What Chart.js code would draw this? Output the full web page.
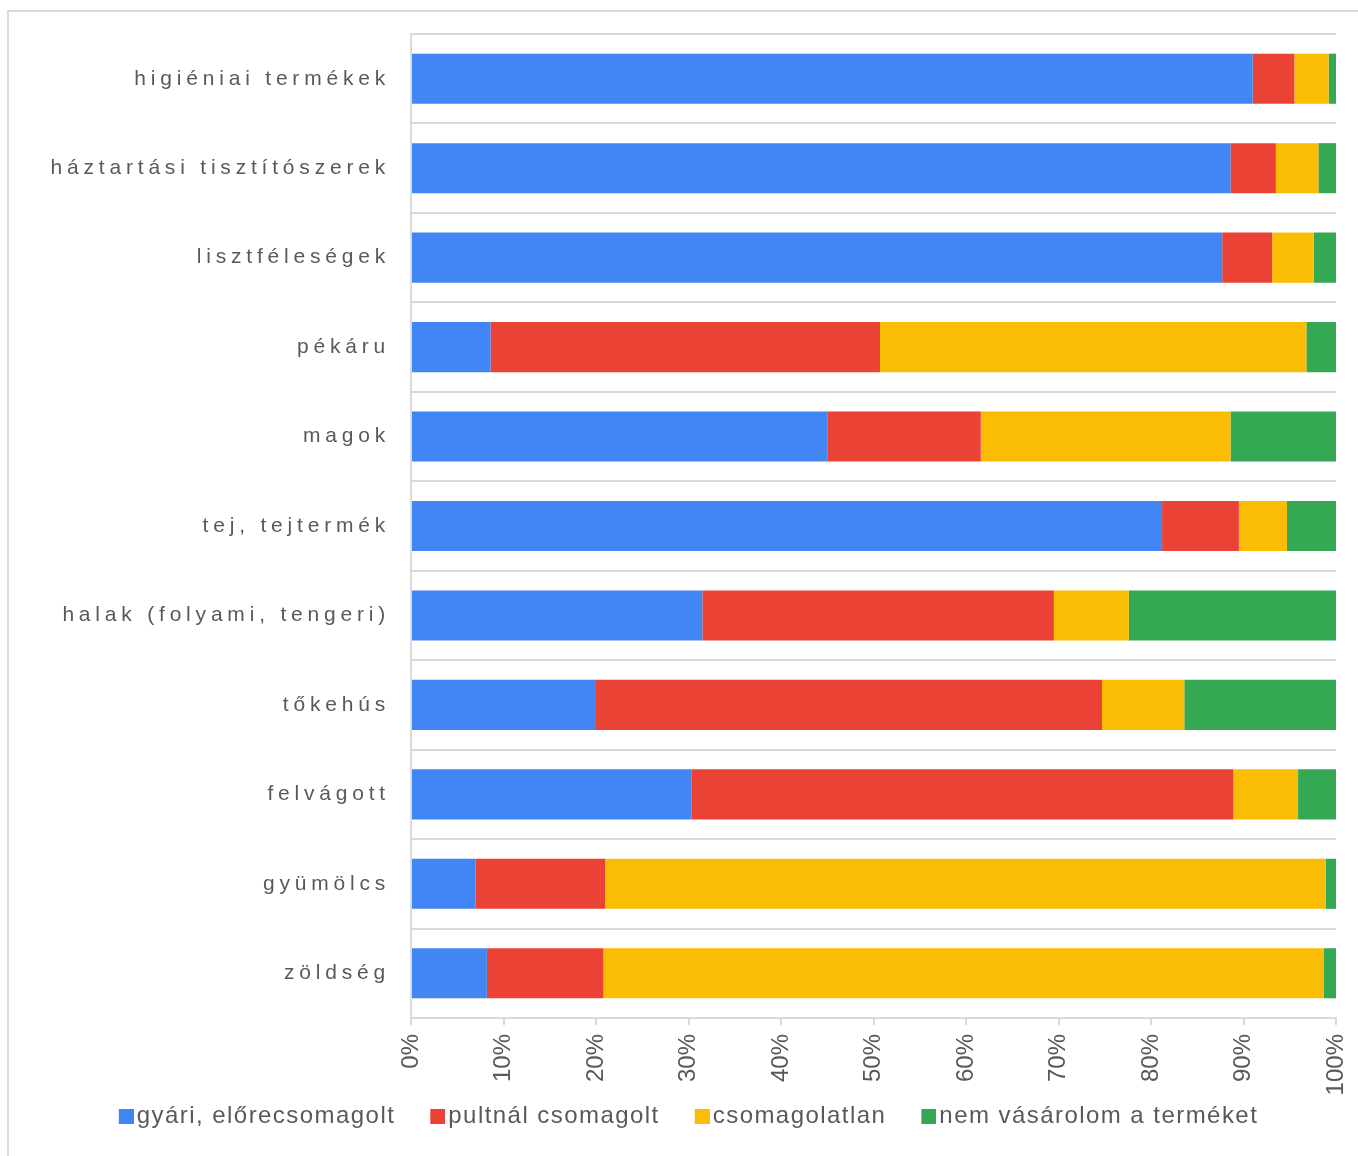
<!DOCTYPE html>
<html>
<head>
<meta charset="utf-8">
<script src="https://cdn.jsdelivr.net/npm/chart.js@4/dist/chart.umd.min.js"></script>
<style>
  html, body { margin: 0; padding: 0; background: #ffffff; overflow: hidden; }
  #frame { position: absolute; left: 7px; top: 10px; width: 2000px; height: 2000px;
           border-left: 2px solid #dadada; border-top: 2px solid #dadada; }
  #wrap { position: absolute; left: 0; top: 0; width: 1358px; height: 1156px; }
</style>
</head>
<body>
<div id="frame"></div>
<div id="wrap"><canvas id="c" width="1358" height="1156"></canvas></div>
<script>
const categories = [
  "higiéniai termékek",
  "háztartási tisztítószerek",
  "lisztféleségek",
  "pékáru",
  "magok",
  "tej, tejtermék",
  "halak (folyami, tengeri)",
  "tőkehús",
  "felvágott",
  "gyümölcs",
  "zöldség"
];
const seriesNames = [
  "gyári, előrecsomagolt",
  "pultnál csomagolt",
  "csomagolatlan",
  "nem vásárolom a terméket"
];
const gyari        = [91.0, 88.6, 87.7,  8.6, 45.0, 81.2, 31.5, 20.0, 30.3,  7.0,  8.2];
const pultnal      = [ 4.5,  4.9,  5.4, 42.1, 16.6,  8.3, 38.0, 54.7, 58.6, 14.0, 12.6];
const csomagolatlan= [ 3.7,  4.6,  4.5, 46.1, 27.0,  5.2,  8.1,  8.9,  7.0, 77.9, 77.9];
const nemVasarolom = [ 0.8,  1.9,  2.4,  3.2, 11.4,  5.3, 22.4, 16.4,  4.1,  1.1,  1.3];
const xTicks = [0, 10, 20, 30, 40, 50, 60, 70, 80, 90, 100];

const colors = ["#4285f4", "#ea4335", "#fbbc04", "#34a853"];
const FONT = "'Liberation Sans', Arial, sans-serif";
const TEXT = "#595959";
const GRID = "#dadada";

// legend marker: a 15px square drawn offset to the right inside a wider image
function makeMarker(color) {
  const cv = document.createElement('canvas');
  cv.width = 33; cv.height = 15;
  const c = cv.getContext('2d');
  c.fillStyle = color;
  c.fillRect(18, 0, 15, 15);
  return cv;
}
const markers = colors.map(makeMarker);

function patch(obj, method, sp, dy, after) {
  if (obj['_sp_' + method]) return;
  const orig = obj[method];
  obj[method] = function (...a) {
    const c = this.ctx;
    c.save();
    c.letterSpacing = sp;
    if (dy) c.translate(0, dy);
    const r = orig.apply(this, a);
    c.restore();
    if (after) after.call(this);
    return r;
  };
  obj['_sp_' + method] = true;
}

const spacingPlugin = {
  id: 'spacing',
  beforeLayout(chart) {
    if (chart.legend) {
      patch(chart.legend, 'fit', '1.45px', 0, function () { this.height = 53; });
      patch(chart.legend, 'draw', '1.45px', -25);
    }
    if (chart.scales.y) patch(chart.scales.y, 'drawLabels', '4.8px', 0);
  },
  beforeDraw(chart) {
    if (chart.scales.y) patch(chart.scales.y, 'drawLabels', '4.8px', 0);
  }
};

const data = {
  labels: categories,
  datasets: [gyari, pultnal, csomagolatlan, nemVasarolom].map((vals, i) => ({
    label: seriesNames[i],
    data: vals,
    backgroundColor: colors[i],
    borderWidth: 0,
    barPercentage: 1.0,
    categoryPercentage: 0.56
  }))
};

new Chart(document.getElementById('c'), {
  type: 'bar',
  data,
  plugins: [spacingPlugin],
  options: {
    indexAxis: 'y',
    responsive: false,
    animation: false,
    layout: { padding: { left: 32, right: 22, top: 34, bottom: 0 } },
    plugins: {
      tooltip: { enabled: false },
      legend: {
        position: 'bottom',
        labels: {
          usePointStyle: true,
          pointStyleWidth: 15,
          boxWidth: 15,
          boxHeight: 15,
          padding: 26,
          color: TEXT,
          font: { family: FONT, size: 24 },
          generateLabels(chart) {
            const items = Chart.defaults.plugins.legend.labels.generateLabels(chart);
            items.forEach((it, i) => { it.pointStyle = markers[i]; it.lineWidth = 0; });
            return items;
          }
        }
      }
    },
    scales: {
      x: {
        stacked: true,
        min: 0,
        max: 100,
        afterBuildTicks(scale) { scale.ticks = xTicks.map(v => ({ value: v })); },
        afterFit(scale) { scale.height = 85; scale.paddingLeft = 0; scale.paddingRight = 0; },
        ticks: {
          autoSkip: false,
          minRotation: 90,
          maxRotation: 90,
          padding: 9,
          color: TEXT,
          font: { family: FONT, size: 24 },
          callback: v => v + '%'
        },
        grid: {
          drawOnChartArea: false,
          drawTicks: true,
          tickLength: 7,
          color: GRID,
          lineWidth: 2
        },
        border: { display: true, color: GRID, width: 2 }
      },
      y: {
        stacked: true,
        afterFit(scale) { scale.width = 379; },
        ticks: {
          padding: 21,
          color: TEXT,
          font: { family: FONT, size: 21 }
        },
        grid: {
          offset: true,
          drawTicks: false,
          color: GRID,
          lineWidth: 2
        },
        border: { display: true, color: GRID, width: 2 }
      }
    }
  }
});
</script>
</body>
</html>
